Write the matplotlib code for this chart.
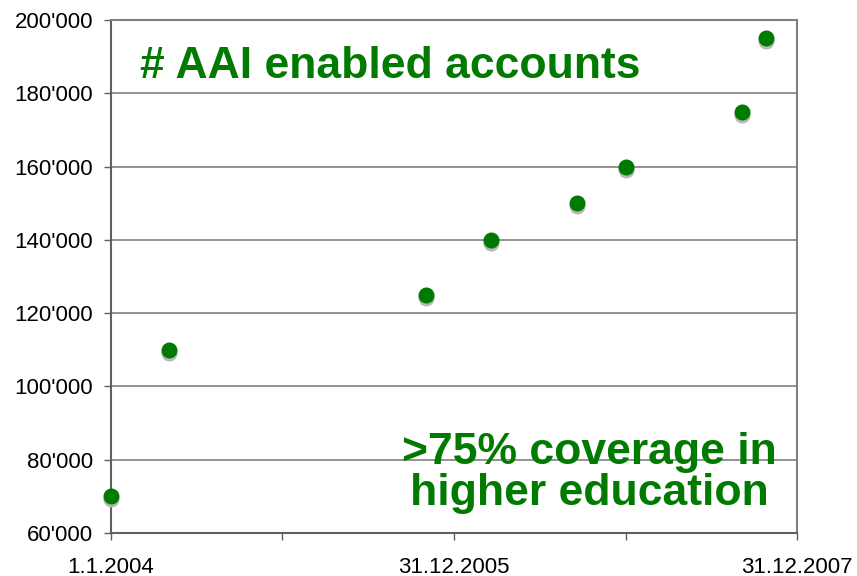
import matplotlib
matplotlib.use("Agg")
import matplotlib.pyplot as plt
import matplotlib.transforms as mtransforms
from matplotlib.ticker import FuncFormatter
from datetime import datetime

# data
dates = ["2004-01-01", "2004-05-03", "2005-11-01", "2006-03-20",
         "2006-09-19", "2007-01-02", "2007-09-04", "2007-10-27"]
accounts = [70000, 110000, 125000, 140000, 150000, 160000, 175000, 195000]
tick_dates = ["2004-01-01", "2004-12-31", "2005-12-31", "2006-12-31", "2007-12-31"]
tick_labels = ["1.1.2004", "", "31.12.2005", "", "31.12.2007"]

x = [datetime.strptime(d, "%Y-%m-%d") for d in dates]
xt = [datetime.strptime(d, "%Y-%m-%d") for d in tick_dates]

plt.rcParams['font.family'] = ['Liberation Sans', 'DejaVu Sans']

fig = plt.figure(figsize=(8.57, 5.76), dpi=100)
ax = fig.add_axes([0.1295, 0.0747, 0.8005, 0.8903])

green = "#007A00"
grey = "#808080"

# shadow below each marker
shadow = ax.transData + mtransforms.ScaledTranslation(0, -3 / 100, fig.dpi_scale_trans)
ax.plot(x, accounts, 'o', color="#b8b8b8", markersize=10.5, transform=shadow,
        clip_on=False, zorder=3)
ax.plot(x, accounts, 'o', color=green, markersize=10.5, clip_on=False, zorder=4)

ax.set_xlim(xt[0], xt[-1])
ax.set_ylim(60000, 200000)
ax.set_xticks(xt)
ax.set_xticklabels(tick_labels)
ax.set_yticks(range(60000, 200001, 20000))
ax.yaxis.set_major_formatter(FuncFormatter(lambda v, p: f"{int(v):,}".replace(",", "'")))

ax.grid(axis='y', color=grey, linewidth=1.2)
ax.set_axisbelow(True)
for s in ax.spines.values():
    s.set_color(grey)
    s.set_linewidth(1.5)
ax.spines['left'].set_color("#606060")
ax.spines['bottom'].set_color("#606060")
ax.tick_params(axis='both', colors="#606060", labelcolor='black', labelsize=16,
               length=5, width=1)
ax.tick_params(axis='x', pad=12)
ax.tick_params(axis='y', pad=8)

ax.text(0.042, 0.887, "# AAI enabled accounts", transform=ax.transAxes,
        fontsize=32, fontweight='bold', color=green, va='baseline', ha='left')
ax.text(0.698, 0.055, ">75% coverage in\nhigher education", transform=ax.transAxes,
        fontsize=32, fontweight='bold', color=green, va='baseline', ha='center',
        multialignment='center', linespacing=0.98)

fig.savefig("out.png", dpi=100)
